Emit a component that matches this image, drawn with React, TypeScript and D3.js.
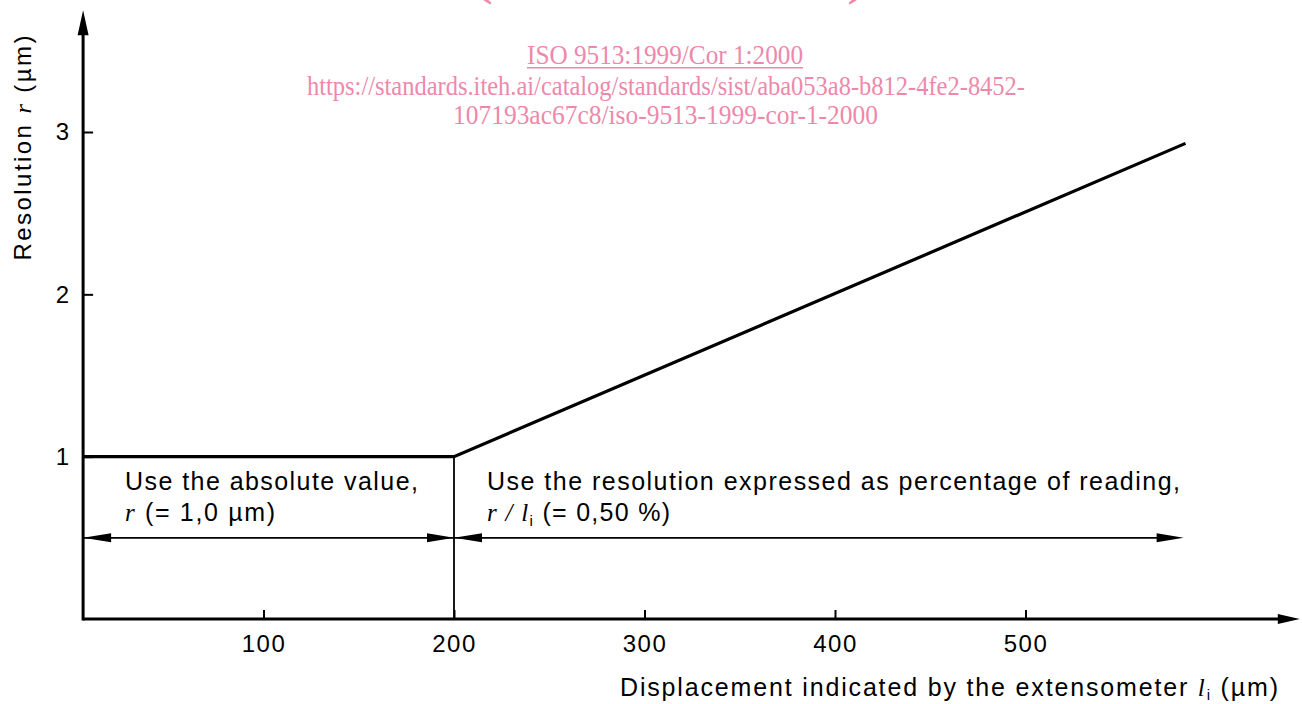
import React, { useRef, useEffect } from "react";
import * as d3 from "d3";

// values
const resolutionLine = [
  { l: 5.3, r: 1 },
  { l: 200, r: 1 },
  { l: 584, r: 2.93 },
];
const xTicks = [100, 200, 300, 400, 500];
const yTicks = [1, 2, 3];
const rangeArrowR = 0.5;
const absoluteRange = [5.3, 200];
const percentRange = [200, 583];
const xAxisEnd = 644;
const yAxisEnd = 3.75;

const watermarkLines = [
  "ISO 9513:1999/Cor 1:2000",
  "https://standards.iteh.ai/catalog/standards/sist/aba053a8-b812-4fe2-8452-",
  "107193ac67c8/iso-9513-1999-cor-1-2000",
];

const W = 1302;
const H = 704;
const sans = "'Liberation Sans', Arial, sans-serif";
const serif = "'Liberation Serif', 'Times New Roman', serif";
const pink = "#ee88ab";

const x = d3.scaleLinear().domain([0, 600]).range([73, 1216]);
const y = d3.scaleLinear().domain([0, 3]).range([619, 132]);

function arrowHead(tipX: number, tipY: number, dir: "left" | "right" | "up", len: number, half: number) {
  if (dir === "up") return `M${tipX},${tipY}L${tipX - half},${tipY + len}L${tipX + half},${tipY + len}Z`;
  const s = dir === "right" ? -1 : 1;
  return `M${tipX},${tipY}L${tipX + s * len},${tipY - half}L${tipX + s * len},${tipY + half}Z`;
}

export default function App() {
  const xAxisRef = useRef<SVGGElement>(null);
  const yAxisRef = useRef<SVGGElement>(null);

  useEffect(() => {
    const gx = d3.select(xAxisRef.current);
    gx.call(
      d3.axisBottom(x).tickValues(xTicks).tickSizeInner(-9).tickSizeOuter(0).tickPadding(16).tickFormat(d3.format("d"))
    );
    gx.select(".domain").remove();
    gx.selectAll(".tick line").attr("stroke", "#000").attr("stroke-width", 2);
    gx.selectAll(".tick text")
      .attr("font-family", sans)
      .attr("font-size", 24)
      .attr("letter-spacing", 1.5)
      .attr("fill", "#000");

    const gy = d3.select(yAxisRef.current);
    gy.call(d3.axisLeft(y).tickValues(yTicks).tickSizeInner(-10).tickSizeOuter(0).tickPadding(14).tickFormat(d3.format("d")));
    gy.select(".domain").remove();
    gy.selectAll(".tick line").attr("stroke", "#000").attr("stroke-width", 2);
    gy.selectAll(".tick text").attr("font-family", sans).attr("font-size", 24).attr("fill", "#000");
  }, []);

  const line = d3
    .line<{ l: number; r: number }>()
    .x((d) => x(d.l))
    .y((d) => y(d.r));

  const x0 = x(absoluteRange[0]);
  const y0 = y(0);
  const ya = y(rangeArrowR);

  return (
    <svg width={W} height={H} style={{ position: "absolute", left: 0, top: 0, background: "#fff" }}>
      {/* watermark */}
      <g fill={pink} fontFamily={serif}>
        <text x={670} y={-4} fontSize={40} fontWeight="bold" textAnchor="middle" textLength={388} lengthAdjust="spacingAndGlyphs">
          (standards.iteh.ai)
        </text>
        <text x={527} y={64} fontSize={27} textLength={276} lengthAdjust="spacingAndGlyphs">
          {watermarkLines[0]}
        </text>
        <rect x={527} y={67} width={276} height={1.5} />
        <text x={307} y={95} fontSize={27} textLength={718} lengthAdjust="spacingAndGlyphs">
          {watermarkLines[1]}
        </text>
        <text x={453} y={124} fontSize={27} textLength={425} lengthAdjust="spacingAndGlyphs">
          {watermarkLines[2]}
        </text>
      </g>

      {/* axes */}
      <line x1={x0} x2={x(xAxisEnd) - 10} y1={y0} y2={y0} stroke="#000" strokeWidth={3} />
      <path d={arrowHead(x(xAxisEnd), y0, "right", 22, 5)} fill="#000" />
      <line x1={x0} x2={x0} y1={y0 + 1.5} y2={y(yAxisEnd) + 10} stroke="#000" strokeWidth={3} />
      <path d={arrowHead(x0, y(yAxisEnd), "up", 25, 5.5)} fill="#000" />
      <g ref={xAxisRef} transform={`translate(0,${y0})`} />
      <g ref={yAxisRef} transform={`translate(${x0},0)`} />

      {/* resolution line */}
      <path d={line(resolutionLine) || ""} fill="none" stroke="#000" strokeWidth={3.2} strokeLinejoin="miter" />
      <line x1={x(200)} x2={x(200)} y1={y(1)} y2={y0} stroke="#000" strokeWidth={1.8} />

      {/* range arrows */}
      <line x1={x(absoluteRange[0])} x2={x(absoluteRange[1])} y1={ya} y2={ya} stroke="#000" strokeWidth={1.8} />
      <path d={arrowHead(x(absoluteRange[0]), ya, "left", 28, 4.5)} fill="#000" />
      <path d={arrowHead(x(absoluteRange[1]), ya, "right", 27, 4.5)} fill="#000" />
      <line x1={x(percentRange[0])} x2={x(percentRange[1]) - 10} y1={ya} y2={ya} stroke="#000" strokeWidth={1.8} />
      <path d={arrowHead(x(percentRange[0]), ya, "left", 28, 4.5)} fill="#000" />
      <path d={arrowHead(x(percentRange[1]), ya, "right", 27, 4.5)} fill="#000" />

      {/* annotations */}
      <g fontFamily={sans} fontSize={25} fill="#000">
        <text x={125} y={490} textLength={293}>Use the absolute value,</text>
        <text x={125} y={521} textLength={150}>
          <tspan fontFamily={serif} fontStyle="italic">r</tspan>
          <tspan> (= 1,0  µm)</tspan>
        </text>
        <text x={487} y={490} textLength={693}>Use the resolution expressed as percentage of reading,</text>
        <text x={487} y={521} textLength={183}>
          <tspan fontFamily={serif} fontStyle="italic">r / l</tspan>
          <tspan fontSize={15} dy={5}>i</tspan>
          <tspan dy={-5}>{"  (= 0,50 %)"}</tspan>
        </text>
      </g>

      {/* axis titles */}
      <text x={620} y={696} fontFamily={sans} fontSize={25} textLength={658}>
        Displacement indicated by the extensometer{" "}
        <tspan fontFamily={serif} fontStyle="italic">l</tspan>
        <tspan fontSize={15} dy={4}>i</tspan>
        <tspan dy={-4}>{"  (µm)"}</tspan>
      </text>
      <text
        transform="translate(31,148) rotate(-90)"
        fontFamily={sans}
        fontSize={24}
        textAnchor="middle"
        textLength={225}
      >
        Resolution <tspan fontFamily={serif} fontStyle="italic">r</tspan> (µm)
      </text>
    </svg>
  );
}
